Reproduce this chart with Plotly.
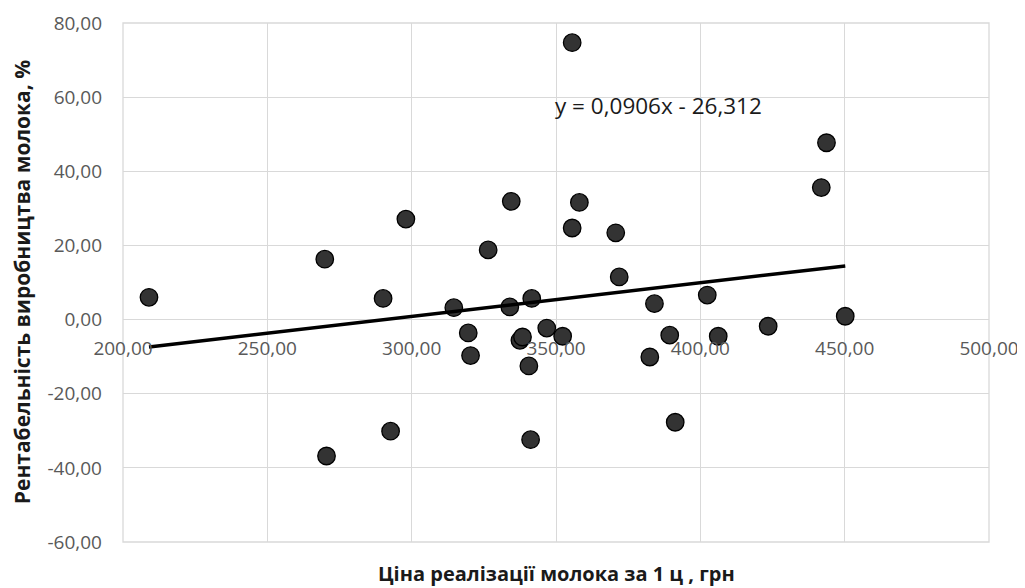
import plotly.graph_objects as go

# Price of milk per 1 centner, UAH
price = [209.0, 269.9, 298.0, 334.5, 326.5, 290.1, 355.6, 443.7, 441.9, 358.1,
         355.6, 370.7, 371.9, 314.6, 319.6, 320.4, 270.5, 292.7, 334.0, 341.6,
         337.5, 338.4, 346.8, 352.3, 340.6, 341.2, 384.1, 402.4, 389.4, 406.2,
         382.5, 423.5, 450.2, 391.3]
# Profitability of milk production, %
profit = [6.0, 16.3, 27.1, 31.9, 18.8, 5.7, 74.7, 47.7, 35.6, 31.6,
          24.7, 23.4, 11.5, 3.2, -3.6, -9.7, -36.8, -30.1, 3.4, 5.7,
          -5.6, -4.7, -2.3, -4.5, -12.5, -32.4, 4.3, 6.6, -4.2, -4.5,
          -10.1, -1.8, 0.9, -27.7]

slope = 0.0906
intercept = -26.312
trend_x = [min(price), max(price)]
trend_y = [slope * v + intercept for v in trend_x]

x_ticks = [200, 250, 300, 350, 400, 450, 500]
x_ticklabels = ["200,00", "250,00", "300,00", "350,00", "400,00", "450,00", "500,00"]
y_ticks = [-60, -40, -20, 0, 20, 40, 60, 80]
y_ticklabels = ["-60,00", "-40,00", "-20,00", "0,00", "20,00", "40,00", "60,00", "80,00"]

x_title = "Ціна реалізації молока за 1 ц , грн"
y_title = "Рентабельність виробництва молока, %"
eq_label = "y = 0,0906x - 26,312"

FONT = "Open Sans"
GRID = "#d9d9d9"

fig = go.Figure()
fig.add_trace(go.Scatter(
    x=price, y=profit, mode="markers",
    marker=dict(size=17.5, color="#333333", line=dict(color="#000000", width=1.3)),
    showlegend=False, hoverinfo="x+y"))
fig.add_trace(go.Scatter(
    x=trend_x, y=trend_y, mode="lines",
    line=dict(color="#000000", width=3.5),
    showlegend=False, hoverinfo="skip"))

ymin, ymax = y_ticks[0], y_ticks[-1]
# page has an 8px body margin at top/left, so the figure is 8px smaller
fig.update_layout(
    width=1017, height=580,
    margin=dict(l=115, r=36, t=15, b=46, autoexpand=False),
    paper_bgcolor="white", plot_bgcolor="white",
    font=dict(family=FONT, color="#595959", size=19),
    xaxis=dict(
        range=[x_ticks[0], x_ticks[-1]], tickmode="array",
        tickvals=x_ticks, ticktext=x_ticklabels,
        showgrid=True, gridcolor=GRID, gridwidth=1.3,
        zeroline=False, showline=False, automargin=False,
        anchor="free", position=(0 - ymin) / (ymax - ymin),
        ticks="", ticklabelstandoff=15,
        tickfont=dict(family=FONT, size=19, color="#595959"),
    ),
    yaxis=dict(
        range=[ymin, ymax], tickmode="array",
        tickvals=y_ticks, ticktext=y_ticklabels,
        showgrid=True, gridcolor=GRID, gridwidth=1.3,
        zeroline=False, showline=False, automargin=False,
        ticks="", ticklabelstandoff=20,
        tickfont=dict(family=FONT, size=19, color="#595959"),
    ),
    shapes=[dict(type="rect", xref="paper", yref="paper", x0=0, x1=1, y0=0, y1=1,
                 line=dict(color=GRID, width=1.3), layer="below")],
    annotations=[
        dict(text="<b>" + x_title + "</b>", xref="paper", yref="paper",
             x=0.5, y=-0.061, xanchor="center", yanchor="middle", showarrow=False,
             font=dict(family=FONT, size=20, color="#1a1a1a")),
        dict(text="<b>" + y_title + "</b>", xref="paper", yref="paper",
             x=-0.117, y=0.5, xanchor="center", yanchor="middle", showarrow=False,
             textangle=-90, font=dict(family=FONT, size=21, color="#1a1a1a")),
        dict(text=eq_label, xref="x", yref="y", x=348.9, y=57.8,
             xanchor="left", yanchor="middle", showarrow=False,
             font=dict(family=FONT, size=22.5, color="#1a1a1a")),
    ],
)

fig.write_html("out.html")
